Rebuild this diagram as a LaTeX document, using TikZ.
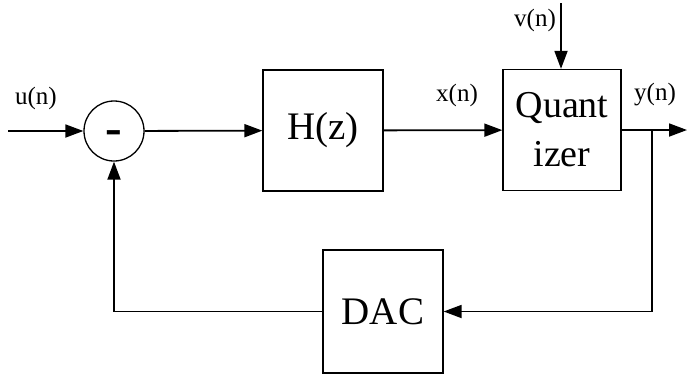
\documentclass[tikz,border=0pt]{standalone}
\usepackage{fontspec}
\setmainfont{Liberation Serif}
\usetikzlibrary{arrows.meta}
\begin{document}
\begin{tikzpicture}[x=1pt,y=-1pt,
  blk/.style={draw, line width=1.3pt, minimum width=120pt, minimum height=121pt, inner sep=0pt, font=\fontsize{39}{47}\selectfont},
  sig/.style={line width=1.8pt, -{Triangle[length=18pt,width=13pt]}},
  lbl/.style={font=\fontsize{25}{30}\selectfont, inner sep=0pt}]
\useasboundingbox (0,0) rectangle (687,378);
\node[circle, draw, line width=1.3pt, minimum size=60pt, inner sep=0pt] (sum) at (114,131) {};
\node[inner sep=0pt, font=\fontsize{50}{50}\selectfont\bfseries, yshift=-7pt] (minus) at (sum) {-};
\node[blk] (H) at (323,130.5) {H(z)};
\node[blk, minimum width=118pt, align=center, font=\fontsize{38}{49}\selectfont] (Q) at (562,130) {Quant\\izer};
\node[blk, minimum height=123pt] (D) at (383,311.5) {DAC};
\coordinate (in) at (8,131);
\coordinate (out) at (687,130);
\coordinate (br) at (652,130);
\coordinate (vt) at (561,3);
\draw[sig] (in) -- (sum);
\draw[sig] (sum) -- (H);
\draw[sig] (H) -- (Q);
\draw[sig] (Q.east) -- (out);
\draw[sig] (vt) -- (vt |- Q.north);
\draw[sig] (br) |- (D);
\draw[sig] (D) -| (sum);
\node[lbl] (u) at (36,98) {u(n)};
\node[lbl] (x) at (457,95) {x(n)};
\node[lbl] (y) at (655,95) {y(n)};
\node[lbl] (v) at (535,20) {v(n)};
\end{tikzpicture}
\end{document}
